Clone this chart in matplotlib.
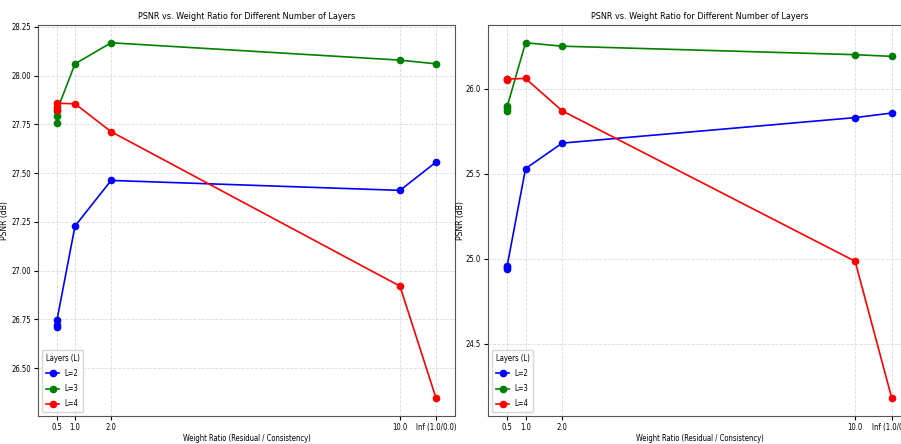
import matplotlib
matplotlib.use("Agg")
import matplotlib.pyplot as plt
from matplotlib import font_manager

# x positions: Inf (1.0/0.0) is placed at 11
x_vals = [0.5, 0.5, 0.5, 1.0, 2.0, 10.0, 11.0]
tick_pos = [0.5, 1.0, 2.0, 10.0, 11.0]
tick_labels = ["0.5", "1.0", "2.0", "10.0", "Inf (1.0/0.0)"]
layers = ["L=2", "L=3", "L=4"]
colors = ["blue", "green", "red"]

# left panel
left_l2 = [26.71, 26.72, 26.745, 27.228, 27.462, 27.411, 27.556]
left_l3 = [27.755, 27.79, 27.82, 28.06, 28.168, 28.079, 28.06]
left_l4 = [27.821, 27.838, 27.858, 27.855, 27.712, 26.92, 26.345]

# right panel
right_l2 = [24.94, 24.95, 24.96, 25.53, 25.68, 25.83, 25.857]
right_l3 = [25.87, 25.885, 25.896, 26.27, 26.25, 26.2, 26.19]
right_l4 = [26.05, 26.055, 26.057, 26.06, 25.87, 24.985, 24.18]

FP = dict(family="DejaVu Sans", stretch="condensed")

fig = plt.figure(figsize=(9.01, 4.44), dpi=100)
ax1 = fig.add_axes([38 / 901, 28 / 444, 417 / 901, 391 / 444])
ax2 = fig.add_axes([488 / 901, 28 / 444, 423 / 901, 391 / 444])

for ax, series, ylab_x in [(ax1, [left_l2, left_l3, left_l4], -29 / 417),
                           (ax2, [right_l2, right_l3, right_l4], -23 / 423)]:
    for ys, lab, c in zip(series, layers, colors):
        ax.plot(x_vals, ys, marker="o", markersize=4.5, linewidth=1.2, color=c, label=lab)
    ax.set_xticks(tick_pos)
    ax.set_xticklabels(tick_labels, fontsize=5.5, **FP)
    for t in ax.get_yticklabels():
        t.set_family("DejaVu Sans")
        t.set_stretch("condensed")
        t.set_fontsize(5.5)
    ax.tick_params(length=3, width=0.8, pad=2)
    ax.grid(True, linestyle="--", linewidth=0.6, color="#cccccc", alpha=0.7)
    ax.set_title("PSNR vs. Weight Ratio for Different Number of Layers", fontsize=6.5, pad=4, **FP)
    ax.set_xlabel("Weight Ratio (Residual / Consistency)", fontsize=5.5, labelpad=1.5, **FP)
    ax.set_ylabel("PSNR (dB)", fontsize=5.5)
    ax.yaxis.set_label_coords(ylab_x, 0.5)
    for s in ax.spines.values():
        s.set_color("#555555")
    ax.legend(title="Layers (L)", loc="lower left", prop=font_manager.FontProperties(size=5.5, **FP),
              title_fontproperties=font_manager.FontProperties(size=5.5, **FP), handlelength=1.6,
              borderpad=0.5, labelspacing=0.8, framealpha=0.8)

fig.savefig("out.png", dpi=100)
